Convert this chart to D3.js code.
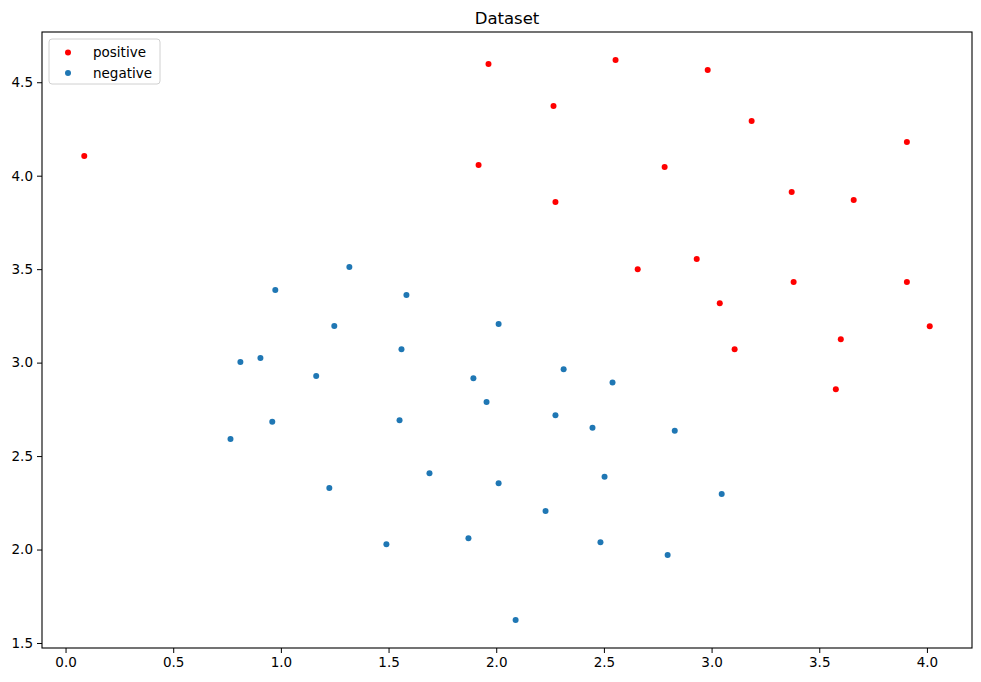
<!DOCTYPE html>
<html>
<head>
<meta charset="utf-8">
<script src="https://cdn.jsdelivr.net/npm/d3@7"></script>
<style>
  body { margin: 0; background: #fff; }
  text { font-family: "DejaVu Sans", sans-serif; }
</style>
</head>
<body>
<div id="app"></div>
<script>
// data
var positiveX = [0.087, 1.964, 2.554, 2.982, 2.266, 3.186, 1.918, 2.782, 3.907, 2.275, 3.372,
  3.660, 2.657, 2.931, 3.038, 3.381, 3.907, 3.107, 3.600, 4.013, 3.577]
var positiveY = [4.105, 4.598, 4.619, 4.566, 4.373, 4.293, 4.057, 4.047, 4.180, 3.859, 3.913,
  3.870, 3.500, 3.554, 3.318, 3.431, 3.431, 3.072, 3.125, 3.195, 2.858]

var negativeX = [0.766, 0.812, 0.905, 0.974, 0.960, 1.164, 1.248, 1.225, 1.318, 1.583, 1.560,
  1.551, 1.690, 1.490, 1.894, 1.955, 2.011, 2.011, 1.871, 2.229, 2.313, 2.275, 2.447, 2.540,
  2.503, 2.484, 2.829, 3.047, 2.796, 2.090]
var negativeY = [2.591, 3.003, 3.025, 3.389, 2.683, 2.929, 3.196, 2.329, 3.512, 3.362, 3.072,
  2.692, 2.408, 2.028, 2.917, 2.789, 3.206, 2.355, 2.061, 2.206, 2.964, 2.718, 2.652, 2.893,
  2.390, 2.039, 2.636, 2.297, 1.971, 1.623]

var xTicks = [0.0, 0.5, 1.0, 1.5, 2.0, 2.5, 3.0, 3.5, 4.0]
var yTicks = [1.5, 2.0, 2.5, 3.0, 3.5, 4.0, 4.5]

var seriesNames = ['positive', 'negative']
var seriesColors = ['#ff0000', '#1f77b4']

var width = 981, height = 682
var margin = { top: 32, right: 9, bottom: 34, left: 42 }

var svg = d3.select('#app')
  .append('svg')
  .attr('width', width)
  .attr('height', height)

// matplotlib style 5% padding on the data range
var allX = positiveX.concat(negativeX), allY = positiveY.concat(negativeY)
var xExt = d3.extent(allX), yExt = d3.extent(allY)
var xPad = (xExt[1] - xExt[0]) * 0.05, yPad = (yExt[1] - yExt[0]) * 0.05

var x = d3.scaleLinear()
  .domain([xExt[0] - xPad, xExt[1] + xPad])
  .range([margin.left, width - margin.right])

var y = d3.scaleLinear()
  .domain([yExt[0] - yPad, yExt[1] + yPad])
  .range([height - margin.bottom, margin.top])

// axes
var xAxis = svg.append('g')
  .attr('transform', 'translate(0,' + (height - margin.bottom) + ')')
  .call(d3.axisBottom(x).tickValues(xTicks).tickFormat(d3.format('.1f')).tickSize(5).tickPadding(4))

var yAxis = svg.append('g')
  .attr('transform', 'translate(' + margin.left + ',0)')
  .call(d3.axisLeft(y).tickValues(yTicks).tickFormat(d3.format('.1f')).tickSize(5).tickPadding(4))

svg.selectAll('.domain').remove()
svg.selectAll('.tick text')
  .attr('font-size', 13.5)
  .attr('fill', '#000')
  .style('font-family', '"DejaVu Sans", sans-serif')
svg.selectAll('.tick line').attr('stroke', '#000').attr('stroke-width', 1)

// frame
svg.append('rect')
  .attr('x', margin.left)
  .attr('y', margin.top)
  .attr('width', width - margin.left - margin.right)
  .attr('height', height - margin.top - margin.bottom)
  .attr('fill', 'none')
  .attr('stroke', '#000')
  .attr('stroke-width', 1.1)

// points
var series = [
  { name: seriesNames[0], color: seriesColors[0], xs: positiveX, ys: positiveY },
  { name: seriesNames[1], color: seriesColors[1], xs: negativeX, ys: negativeY }
]

series.forEach(function (s) {
  svg.append('g')
    .selectAll('circle')
    .data(s.xs.map(function (v, i) { return [v, s.ys[i]] }))
    .enter()
    .append('circle')
    .attr('cx', function (d) { return x(d[0]) })
    .attr('cy', function (d) { return y(d[1]) })
    .attr('r', 3)
    .attr('fill', s.color)
})

// title
svg.append('text')
  .attr('x', (margin.left + width - margin.right) / 2)
  .attr('y', 24)
  .attr('text-anchor', 'middle')
  .attr('font-size', 16.5)
  .text('Dataset')

// legend
var legend = svg.append('g').attr('transform', 'translate(49,39)')
legend.append('rect')
  .attr('width', 111)
  .attr('height', 45)
  .attr('rx', 3)
  .attr('fill', '#fff')
  .attr('fill-opacity', 0.8)
  .attr('stroke', '#d0d0d0')

var item = legend.selectAll('.item')
  .data(series)
  .enter()
  .append('g')
  .attr('class', 'item')
  .attr('transform', function (d, i) { return 'translate(0,' + (13.5 + i * 20.5) + ')' })

item.append('circle')
  .attr('cx', 19)
  .attr('r', 3)
  .attr('fill', function (d) { return d.color })

item.append('text')
  .attr('x', 44)
  .attr('dy', '0.35em')
  .attr('font-size', 13.5)
  .text(function (d) { return d.name })
</script>
</body>
</html>
